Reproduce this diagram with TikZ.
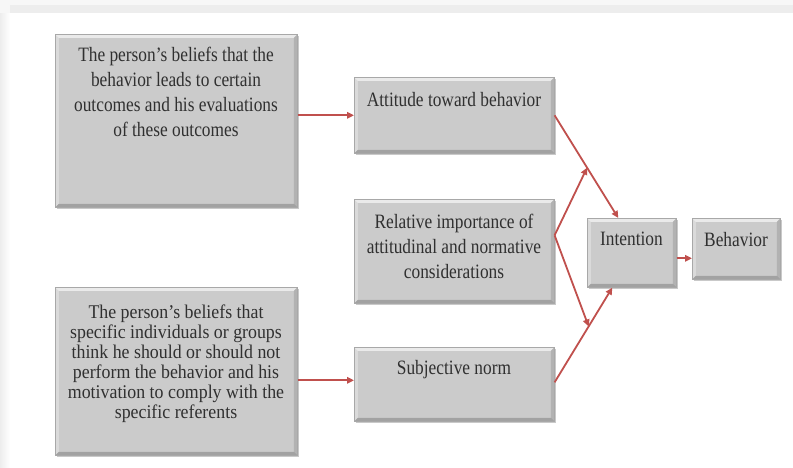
\documentclass[tikz,border=0pt]{standalone}
\usepackage{fontspec}
\setmainfont{Liberation Serif}[FakeStretch=0.85]
\newfontfamily\boxfourfont{Liberation Serif}[FakeStretch=0.92]
\usetikzlibrary{arrows.meta,shadows,calc}
\definecolor{boxgray}{HTML}{CBCBCB}
\definecolor{boxedge}{HTML}{A8A8A8}
\definecolor{arrowred}{HTML}{C0504D}
\definecolor{txtgray}{HTML}{303030}
\newcommand\bevelpp{%
 \fill[white,opacity=0.6] (path picture bounding box.north west) -- (path picture bounding box.north east) -- ([shift={(-3.5pt,-3.5pt)}]path picture bounding box.north east) -- ([shift={(3.5pt,-3.5pt)}]path picture bounding box.north west) -- cycle;
 \fill[white,opacity=0.3] (path picture bounding box.north west) -- (path picture bounding box.south west) -- ([shift={(3.5pt,3.5pt)}]path picture bounding box.south west) -- ([shift={(3.5pt,-3.5pt)}]path picture bounding box.north west) -- cycle;
 \fill[black,opacity=0.2] (path picture bounding box.south west) -- (path picture bounding box.south east) -- ([shift={(-3.5pt,3.5pt)}]path picture bounding box.south east) -- ([shift={(3.5pt,3.5pt)}]path picture bounding box.south west) -- cycle;
 \fill[black,opacity=0.12] (path picture bounding box.north east) -- (path picture bounding box.south east) -- ([shift={(-3.5pt,3.5pt)}]path picture bounding box.south east) -- ([shift={(-3.5pt,-3.5pt)}]path picture bounding box.north east) -- cycle;
}
\begin{document}
\begin{tikzpicture}[x=1pt,y=-1pt,
  box/.style={rectangle, fill=boxgray, draw=boxedge, line width=0.6pt, inner sep=0pt, anchor=north west,
    drop shadow={shadow xshift=1.5pt, shadow yshift=-1.5pt, opacity=0.35, fill=black!60},
    path picture={\bevelpp}},
  txt/.style={anchor=north, inner sep=0pt, align=center, text=txtgray, font=\fontsize{20.4}{25}\selectfont},
  txtb/.style={txt, font=\boxfourfont\fontsize{19.4}{20}\selectfont},
  arr/.style={draw=arrowred, line width=1.8pt, -{Triangle[length=7pt,width=6.5pt]}}]
\useasboundingbox (0,0) rectangle (793,467);
\fill[white] (0,0) rectangle (793,467);
\fill[black!3] (0,0) rectangle (793,13);
\fill[black!7] (10,5) rectangle (793,13);
\shade[left color=black!7, right color=white] (0,13) rectangle (10,467);
% boxes
\node[box, minimum width=242pt, minimum height=173pt] (b1) at (55,34) {};
\node[box, minimum width=200pt, minimum height=76pt] (att) at (354,77) {};
\node[box, minimum width=200pt, minimum height=104pt] (rel) at (354,199) {};
\node[box, minimum width=242pt, minimum height=168pt] (b4) at (55,287) {};
\node[box, minimum width=200pt, minimum height=74pt] (subj) at (354,347) {};
\node[box, minimum width=89pt, minimum height=69pt] (int) at (587,218) {};
\node[box, minimum width=88pt, minimum height=61pt] (beh) at (692,218) {};
% texts
\node[txt] (t1) at (176,47) {The person’s beliefs that the\\behavior leads to certain\\outcomes and his evaluations\\of these outcomes};
\node[txt] (tatt) at (454,92) {Attitude toward behavior};
\node[txt] (trel) at (454,214) {Relative importance of\\attitudinal and normative\\considerations};
\node[txtb] (t4) at (176,305) {The person’s beliefs that\\specific individuals or groups\\think he should or should not\\perform the behavior and his\\motivation to comply with the\\specific referents};
\node[txt] (tsubj) at (454,360) {Subjective norm};
\node[txt] (tint) at (631.5,232) {Intention};
\node[txt] (tbeh) at (736,232) {Behavior};
% connectors
\coordinate (i1) at ([xshift=-13.5pt]int.north);
\coordinate (i2) at ([xshift=-19.5pt]int.south);
\coordinate (rv) at ([yshift=16pt]rel.east);
\coordinate (sv) at ([yshift=2pt]subj.east);
\coordinate (sw) at ([yshift=4pt]subj.west);
\coordinate (ie) at ([yshift=-5.5pt]int.east);
\draw[arr] (b1.east |- att.west) -- (att.west);
\draw[arr] (b4.east |- sw) -- (sw);
\draw[arr] (att.east) -- (i1);
\draw[arr] (sv) -- (i2);
\draw[arr] (rv) -- ($(att.east)!0.51!(i1)$);
\draw[arr] (rv) -- ($(sv)!0.59!(i2)$);
\draw[arr] (ie) -- (beh.west |- ie);
\end{tikzpicture}
\end{document}
